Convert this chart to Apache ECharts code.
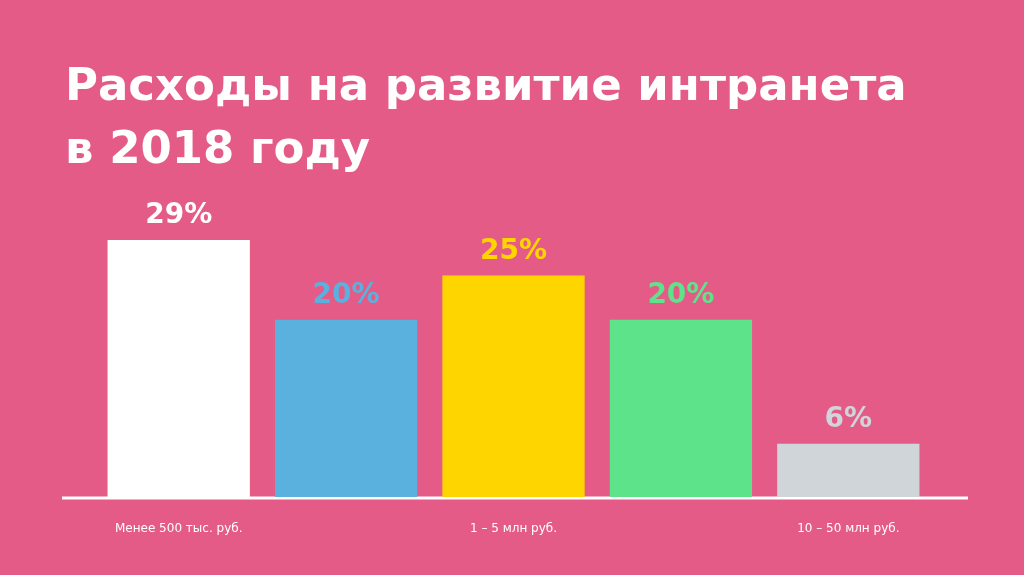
<!DOCTYPE html>
<html><head><meta charset="utf-8">
<script src="https://cdn.jsdelivr.net/npm/echarts@6/dist/echarts.min.js"></script>
<style>html,body{margin:0;padding:0;background:#e55b88}#c{width:1024px;height:575px}</style>
</head><body><div id="c"></div>
<script>
var categories = ["Менее 500 тыс. руб.", "500 тыс. – 1 млн руб.", "1 – 5 млн руб.", "5 – 10 млн руб.", "10 – 50 млн руб."];
var values = [29, 20, 25, 20, 6];
var colors = ["#ffffff", "#5ab1de", "#ffd500", "#5de48b", "#cfd5d9"];

var chart = echarts.init(document.getElementById("c"));
chart.setOption({
  backgroundColor: "#e55b88",
  title: {
    text: "Расходы на развитие интранета\nв 2018 году",
    left: 60, top: 52,
    textStyle: { color: "#fff", fontSize: 45, fontWeight: "bold", fontFamily: "DejaVu Sans", lineHeight: 63 }
  },
  grid: { left: 95, right: 92, top: 240, bottom: 78 },
  xAxis: {
    type: "category", data: categories,
    axisLine: { show: false }, axisTick: { show: false },
    axisLabel: { color: "#fff", fontSize: 12, fontFamily: "DejaVu Sans", margin: 26 }
  },
  yAxis: { type: "value", min: 0, max: 29, show: false, splitLine: { show: false } },
  graphic: [{
    type: "line", shape: { x1: 62, y1: 498, x2: 968, y2: 498 },
    style: { stroke: "#fff", lineWidth: 3 }
  }],
  series: [{
    type: "bar", barCategoryGap: "15%",
    data: values.map(function (v, i) {
      return { value: v, itemStyle: { color: colors[i] }, label: { color: colors[i] } };
    }),
    label: {
      show: true, position: "top", distance: 10, formatter: "{c}%",
      fontSize: 28, fontWeight: "bold", fontFamily: "DejaVu Sans"
    }
  }]
});
</script></body></html>
